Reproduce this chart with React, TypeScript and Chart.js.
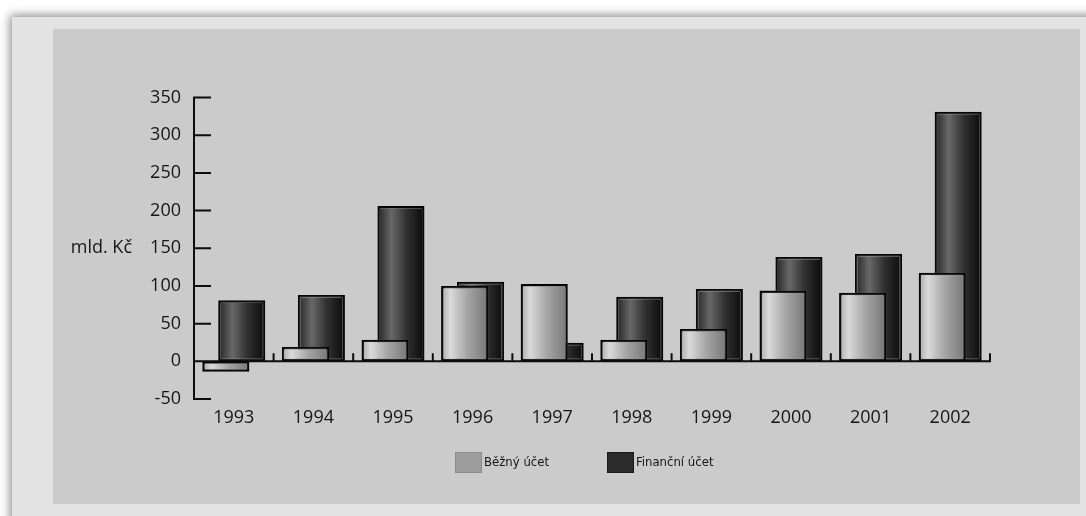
import { useEffect, useRef } from 'react';
import { Chart, registerables } from 'chart.js';

Chart.register(...registerables);

// Balance of payments, mld. Kč
const years = ['1993', '1994', '1995', '1996', '1997', '1998', '1999', '2000', '2001', '2002'];
const currentAccount = [-14, 19, 28.5, 100, 102.5, 28.5, 43, 94, 91, 117.5];
const financialAccount = [81, 88, 206, 105.5, 24.5, 85.5, 96, 138.5, 142.5, 331];
const seriesNames = ['Běžný účet', 'Finanční účet'];
const yTicks = [-50, 0, 50, 100, 150, 200, 250, 300, 350];
const yTitle = 'mld. Kč';

const Y_MIN = -50;
const Y_MAX = 350;
const CAT_PCT = 0.4;
const BAR_PCT = 2.96;

const LIGHT_STOPS: [number, string][] = [
  [0, '#a8a8a8'],
  [0.2, '#dadada'],
  [0.55, '#a6a6a6'],
  [1, '#767676'],
];
const DARK_STOPS: [number, string][] = [
  [0, '#242424'],
  [0.3, '#686868'],
  [0.62, '#303030'],
  [1, '#0a0a0a'],
];
const LEGEND_COLORS = ['#9d9d9d', '#2b2b2b'];

const TEXT = '#161616';
const FONT = 'Open Sans';
const LEGEND_FONT = '"Liberation Sans Narrow", "DejaVu Sans Condensed", "Arial Narrow", sans-serif';

function barFill(stops: [number, string][], fallback: string) {
  return (c: any) => {
    const chart = c.chart;
    const xs = chart.scales && chart.scales.x;
    if (c.type !== 'data' || !xs || !xs.width) return fallback;
    const slot = (xs.width / years.length) * CAT_PCT / 2;
    const center = xs.getPixelForValue(c.dataIndex) + (c.datasetIndex === 0 ? -slot / 2 : slot / 2);
    const w = slot * BAR_PCT;
    const g = chart.ctx.createLinearGradient(center - w / 2, 0, center + w / 2, 0);
    stops.forEach(([o, col]) => g.addColorStop(o, col));
    return g;
  };
}

const framePlugin = {
  id: 'frame',
  beforeDatasetsDraw(chart: any) {
    const ctx = chart.ctx;
    ctx.save();
    ctx.shadowColor = 'rgba(255,255,255,0.45)';
    ctx.shadowBlur = 2;
  },
  afterDatasetsDraw(chart: any) {
    const { ctx, chartArea, scales } = chart;
    ctx.restore();
    const xs = scales.x;
    const ys = scales.y;
    const left = chartArea.left;
    const y0 = ys.getPixelForValue(0);

    ctx.save();
    ctx.strokeStyle = '#0d0d0d';
    ctx.lineWidth = 2;
    ctx.beginPath();
    // value axis with inward ticks
    ctx.moveTo(left, ys.getPixelForValue(Y_MAX) - 1);
    ctx.lineTo(left, ys.getPixelForValue(Y_MIN) + 1);
    yTicks.forEach((v) => {
      const py = ys.getPixelForValue(v);
      ctx.moveTo(left, py);
      ctx.lineTo(left + 17, py);
    });
    // baseline at zero
    ctx.moveTo(left, y0);
    ctx.lineTo(chartArea.right + 1, y0);
    // category separators
    const half = xs.width / years.length / 2;
    years.forEach((_, i) => {
      const px = xs.getPixelForValue(i) + half;
      ctx.moveTo(px, y0);
      ctx.lineTo(px, y0 - 8);
    });
    ctx.stroke();

    // axis title
    ctx.fillStyle = TEXT;
    ctx.font = `18px "${FONT}"`;
    ctx.textAlign = 'right';
    ctx.textBaseline = 'middle';
    ctx.fillText(yTitle, left - 62, ys.getPixelForValue(150));

    // legend
    const mid = (chartArea.left + chartArea.right) / 2;
    const boxY = chartArea.bottom + 53;
    const starts = [mid - 137, mid + 15];
    ctx.font = `13px ${LEGEND_FONT}`;
    ctx.textAlign = 'left';
    seriesNames.forEach((name, i) => {
      const bx = starts[i];
      ctx.fillStyle = LEGEND_COLORS[i];
      ctx.fillRect(bx, boxY, 27, 21);
      ctx.lineWidth = 1;
      ctx.strokeStyle = i === 0 ? '#8c8c8c' : '#1a1a1a';
      ctx.strokeRect(bx + 0.5, boxY + 0.5, 26, 20);
      ctx.fillStyle = TEXT;
      ctx.fillText(name, bx + 29, boxY + 11);
    });
    ctx.restore();
  },
};

export default function App() {
  const ref = useRef<HTMLCanvasElement | null>(null);

  useEffect(() => {
    if (!ref.current) return;
    const chart = new Chart(ref.current, {
      type: 'bar',
      data: {
        labels: years,
        datasets: [
          {
            label: seriesNames[0],
            data: currentAccount,
            backgroundColor: barFill(LIGHT_STOPS, LEGEND_COLORS[0]),
            borderColor: '#000000',
            borderWidth: 2.5,
            borderSkipped: false,
            categoryPercentage: CAT_PCT,
            barPercentage: BAR_PCT,
          },
          {
            label: seriesNames[1],
            data: financialAccount,
            backgroundColor: barFill(DARK_STOPS, LEGEND_COLORS[1]),
            borderColor: '#000000',
            borderWidth: 2.5,
            borderSkipped: false,
            categoryPercentage: CAT_PCT,
            barPercentage: BAR_PCT,
          },
        ],
      },
      options: {
        responsive: false,
        animation: false,
        devicePixelRatio: 1,
        layout: { padding: { left: 0, right: 90, top: 68.5, bottom: 75 } },
        plugins: {
          legend: { display: false },
          tooltip: { enabled: false },
        },
        scales: {
          x: {
            grid: { display: false, drawTicks: false },
            border: { display: false },
            ticks: {
              color: TEXT,
              font: { family: FONT, size: 18 },
              padding: 8,
              autoSkip: false,
              maxRotation: 0,
            },
            afterFit: (s: any) => {
              s.height = 30;
            },
          },
          y: {
            min: Y_MIN,
            max: Y_MAX,
            grid: { display: false, drawTicks: false },
            border: { display: false },
            ticks: {
              stepSize: 50,
              color: TEXT,
              font: { family: FONT, size: 18 },
              padding: 13,
            },
            afterFit: (s: any) => {
              s.width = 141;
            },
          },
        },
      },
      plugins: [framePlugin],
    });
    return () => chart.destroy();
  }, []);

  return (
    <div style={{ position: 'fixed', left: 0, top: 0, width: 1086, height: 516, background: '#ffffff', overflow: 'hidden' }}>
      <div
        style={{
          position: 'absolute',
          left: 12,
          top: 17,
          width: 1100,
          height: 530,
          background: '#e3e3e3',
          boxShadow: '0 0 9px 2px rgba(0,0,0,0.45)',
        }}
      />
      <div style={{ position: 'absolute', left: 53, top: 29, width: 1027, height: 475, background: '#cbcbcb' }}>
        <canvas ref={ref} width={1027} height={475} style={{ display: 'block', width: 1027, height: 475 }} />
      </div>
    </div>
  );
}
